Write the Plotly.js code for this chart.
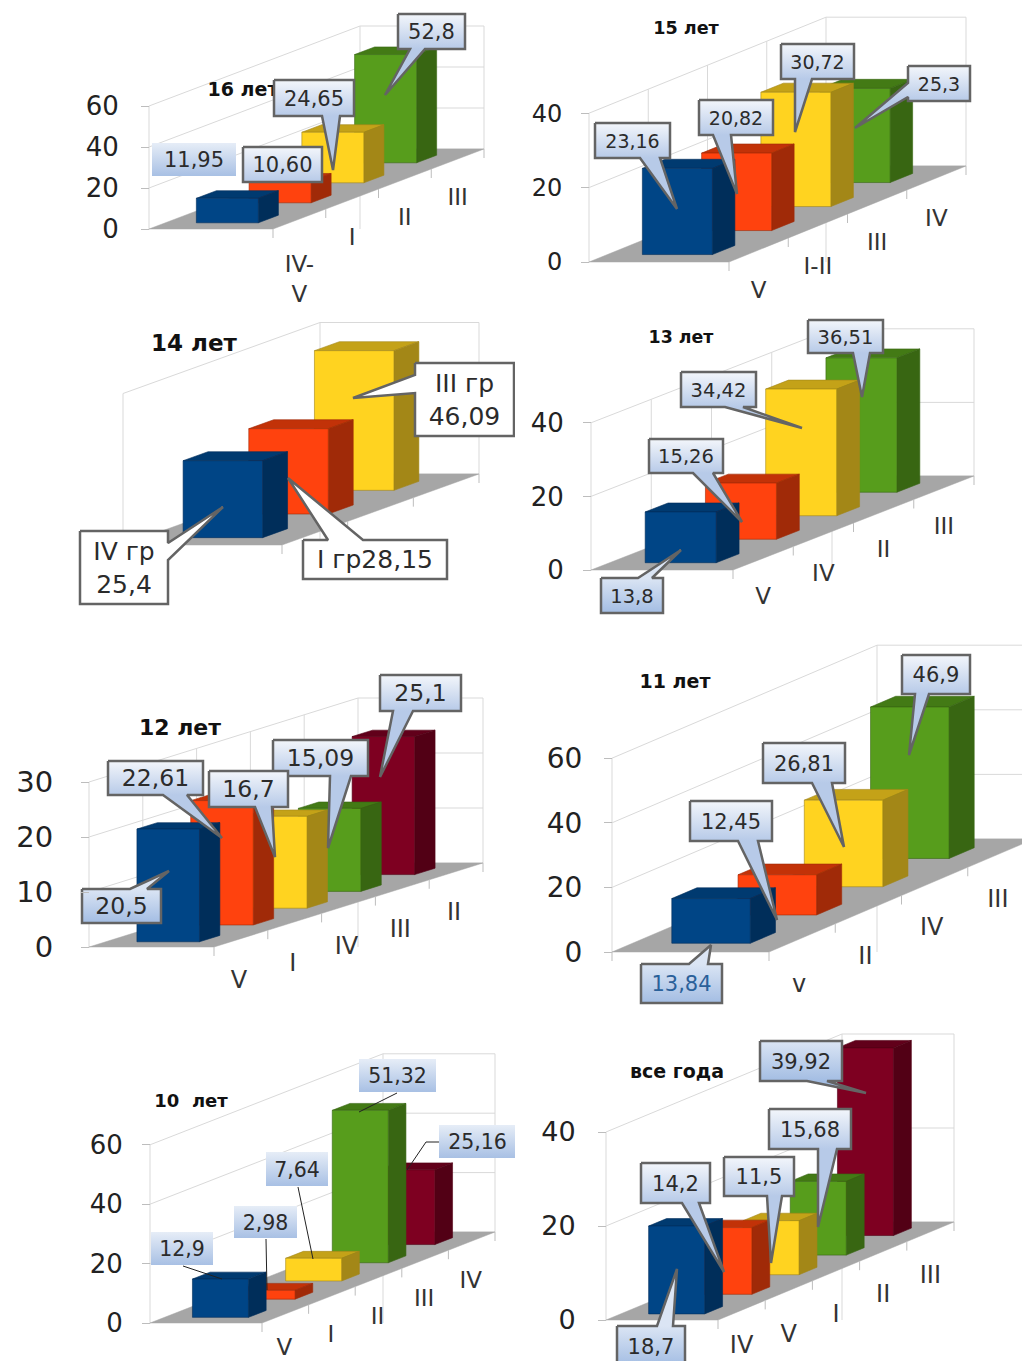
<!DOCTYPE html>
<html>
<head>
<meta charset="utf-8">
<script src="https://cdn.plot.ly/plotly-3.0.1.min.js"></script>
<style>html,body{margin:0;padding:0;background:#fff}#chart{width:1022px;height:1361px}</style>
</head>
<body>
<div id="chart"></div>
<script>
// Share of each health group by age: category order runs front to back along the floor.
const cats16 = ["IV-<br>V", "I", "II", "III"];
const vals16 = [11.95, 10.60, 24.65, 52.8];
const text16 = ["11,95", "10,60", "24,65", "52,8"];
const hues16 = ["blue", "red", "yellow", "green"];

const cats15 = ["V", "I-II", "III", "IV"];
const vals15 = [23.16, 20.82, 30.72, 25.3];
const text15 = ["23,16", "20,82", "30,72", "25,3"];
const hues15 = ["blue", "red", "yellow", "green"];

const cats14 = ["", "", ""];
const vals14 = [25.4, 28.15, 46.09];
const text14 = ["IV гр<br>25,4", "I гр28,15", "III гр<br>46,09"];
const hues14 = ["blue", "red", "yellow"];

const cats13 = ["V", "IV", "II", "III"];
const vals13 = [13.8, 15.26, 34.42, 36.51];
const text13 = ["13,8", "15,26", "34,42", "36,51"];
const hues13 = ["blue", "red", "yellow", "green"];

const cats12 = ["V", "I", "IV", "III", "II"];
const vals12 = [20.5, 22.61, 16.7, 15.09, 25.1];
const text12 = ["20,5", "22,61", "16,7", "15,09", "25,1"];
const hues12 = ["blue", "red", "yellow", "green", "maroon"];

const cats11 = ["v", "II", "IV", "III"];
const vals11 = [13.84, 12.45, 26.81, 46.9];
const text11 = ["13,84", "12,45", "26,81", "46,9"];
const hues11 = ["blue", "red", "yellow", "green"];

const cats10 = ["V", "I", "II", "III", "IV"];
const vals10 = [12.9, 2.98, 7.64, 51.32, 25.16];
const text10 = ["12,9", "2,98", "7,64", "51,32", "25,16"];
const hues10 = ["blue", "red", "yellow", "green", "maroon"];

const catsAll = ["IV", "V", "I", "II", "III"];
const valsAll = [18.7, 14.2, 11.5, 15.68, 39.92];
const textAll = ["18,7", "14,2", "11,5", "15,68", "39,92"];
const huesAll = ["blue", "red", "yellow", "green", "maroon"];

const FONT = "DejaVu Sans, Verdana, sans-serif";
const PAGE_W = 1022, PAGE_H = 1361;

const palette = {
  blue:   {front: "#004586", side: "#002e5a", top: "#003a70"},
  red:    {front: "#ff420e", side: "#a02a08", top: "#c23208"},
  yellow: {front: "#ffd320", side: "#a38717", top: "#c4a218"},
  green:  {front: "#579d1c", side: "#386612", top: "#437a15"},
  maroon: {front: "#7e0021", side: "#520015", top: "#61001a"}
};
const boxStyles = {
  light: {low: "#b7cae8", high: "#f3f6fb", line: "#646464", width: 2.5},
  deep:  {low: "#a3bde3", high: "#dbe5f4", line: "#646464", width: 2.5},
  bare:  {low: "#a8c0e4", high: "#e6edf7", line: "rgba(0,0,0,0)", width: 0},
  plain: {low: "#ffffff", high: "#ffffff", line: "#646464", width: 2.5}
};

// Frame geometry in page pixels: floor corner, wall scale, depth vector, and callout placement.
const panels = [
  {title: "16 лет", titleAt: [243, 91], titleSize: 19, cats: cats16, vals: vals16, text: text16, hues: hues16,
   band: [0, 312], col: 0, x0: 149, y0: 229, k: 2.05, W: 124, Dx: 211, Dy: 80, max: 60, step: 20,
   tickSize: 26, catSize: 23, catOff: [0, 40], catNudge: {0: 22}, labelSize: 21, standoff: 17, callouts: [
    {i: 3, style: "light", box: [398, 14, 465, 49], tail: {side: "bottom", from: 410, to: 425, tip: [385, 95]}},
    {i: 2, style: "light", box: [274, 80, 354, 116], tail: {side: "bottom", from: 322, to: 340, tip: [333, 170]}},
    {i: 1, style: "light", box: [243, 147, 322, 182]},
    {i: 0, style: "bare", box: [152, 143, 236, 176]}
   ]},
  {title: "15 лет", titleAt: [686, 30], titleSize: 17.6, cats: cats15, vals: vals15, text: text15, hues: hues15,
   band: [0, 312], col: 1, x0: 589, y0: 262, k: 3.72, W: 140, Dx: 237, Dy: 96, max: 40, step: 20, wallLines: true,
   tickSize: 24, catSize: 23, catOff: [0, 42], labelSize: 19, standoff: 14, callouts: [
    {i: 2, style: "light", box: [781, 44, 854, 79], tail: {side: "bottom", from: 795, to: 812, tip: [795, 132]}},
    {i: 3, style: "light", box: [908, 66, 970, 101], tail: {side: "left", from: 83, to: 97, tip: [855, 128]}},
    {i: 1, style: "light", box: [699, 100, 773, 135], tail: {side: "bottom", from: 713, to: 731, tip: [737, 194]}},
    {i: 0, style: "light", box: [595, 123, 670, 158], tail: {side: "bottom", from: 640, to: 660, tip: [677, 209]}}
   ]},
  {title: "14 лет", titleAt: [194, 345], titleSize: 23, cats: cats14, vals: vals14, text: text14, hues: hues14,
   band: [312, 632], col: 0, x0: 123, y0: 545, k: 3.03, W: 159, Dx: 197, Dy: 71, max: 50, step: 50, noAxis: true,
   tickSize: 24, catSize: 23, catOff: [0, 38], labelSize: 25, standoff: 18, callouts: [
    {i: 2, style: "plain", box: [415, 363, 514, 436], tail: {side: "left", from: 375, to: 393, tip: [353, 398]}},
    {i: 1, style: "plain", box: [303, 540, 447, 579], tail: {side: "top", from: 328, to: 363, tip: [288, 478]}},
    {i: 0, style: "plain", box: [80, 531, 168, 604], tail: {side: "right", from: 543, to: 560, tip: [223, 507]}}
   ]},
  {title: "13 лет", titleAt: [681, 339], titleSize: 17.4, cats: cats13, vals: vals13, text: text13, hues: hues13,
   band: [312, 632], col: 1, x0: 591, y0: 570, k: 3.68, W: 142, Dx: 241, Dy: 94, max: 40, step: 20, wallLines: true,
   tickSize: 26, catSize: 23, catOff: [0, 40], labelSize: 19.5, standoff: 14, callouts: [
    {i: 3, style: "light", box: [808, 320, 883, 353], tail: {side: "bottom", from: 853, to: 870, tip: [862, 397]}},
    {i: 2, style: "light", box: [681, 372, 756, 407], tail: {side: "bottom", from: 725, to: 743, tip: [802, 428]}},
    {i: 1, style: "light", box: [649, 439, 723, 473], tail: {side: "bottom", from: 693, to: 713, tip: [742, 522]}},
    {i: 0, style: "deep", box: [601, 578, 663, 613], tail: {side: "top", from: 638, to: 652, tip: [681, 550]}}
   ]},
  {title: "12 лет", titleAt: [180, 729], titleSize: 22, cats: cats12, vals: vals12, text: text12, hues: hues12,
   band: [640, 1015], col: 0, x0: 89, y0: 947, k: 5.5, W: 125, Dx: 269, Dy: 84, max: 30, step: 10, wallLines: true,
   tickSize: 29, catSize: 24, catOff: [-2, 43], labelSize: 23.5, standoff: 22, callouts: [
    {i: 4, style: "light", box: [380, 675, 461, 711], tail: {side: "bottom", from: 393, to: 413, tip: [380, 777]}},
    {i: 3, style: "light", box: [273, 740, 368, 776], tail: {side: "bottom", from: 330, to: 351, tip: [328, 848]}},
    {i: 2, style: "light", box: [209, 771, 288, 807], tail: {side: "bottom", from: 255, to: 272, tip: [275, 857]}},
    {i: 1, style: "light", box: [108, 761, 203, 795], tail: {side: "bottom", from: 163, to: 187, tip: [222, 838]}},
    {i: 0, style: "deep", box: [82, 889, 161, 923], tail: {side: "top", from: 130, to: 147, tip: [169, 871]}}
   ]},
  {title: "11 лет", titleAt: [675, 683], titleSize: 19, cats: cats11, vals: vals11, text: text11, hues: hues11,
   band: [640, 1015], col: 1, x0: 612, y0: 952, k: 3.23, W: 157, Dx: 265, Dy: 113, max: 60, step: 20, cornerTick: true,
   tickSize: 28, catSize: 24, catOff: [-3, 48], labelSize: 21, standoff: 16, callouts: [
    {i: 3, style: "light", box: [902, 655, 970, 694], tail: {side: "bottom", from: 915, to: 929, tip: [909, 755]}},
    {i: 2, style: "light", box: [763, 743, 845, 783], tail: {side: "bottom", from: 812, to: 832, tip: [844, 847]}},
    {i: 1, style: "light", box: [690, 801, 772, 841], tail: {side: "bottom", from: 738, to: 758, tip: [777, 920]}},
    {i: 0, style: "deep", ink: "#2a6099", box: [641, 964, 722, 1003], tail: {side: "top", from: 689, to: 708, tip: [711, 945]}}
   ]},
  {title: "10  лет", titleAt: [191, 1102], titleSize: 18, cats: cats10, vals: vals10, text: text10, hues: hues10,
   band: [1015, 1361], col: 0, x0: 150, y0: 1323, k: 2.97, W: 112, Dx: 233, Dy: 91, max: 60, step: 20,
   tickSize: 26, catSize: 23, catOff: [-1, 41], catNudge: {0: -6}, labelSize: 20.5, standoff: 14, callouts: [
    {i: 3, style: "bare", box: [359, 1059, 436, 1092], leader: [[397, 1093], [359, 1112]]},
    {i: 4, style: "bare", box: [439, 1125, 516, 1158], leader: [[439, 1142], [426, 1142], [407, 1170]]},
    {i: 2, style: "bare", box: [266, 1152, 328, 1186], leader: [[298, 1187], [313, 1259]]},
    {i: 1, style: "bare", box: [234, 1206, 297, 1238], leader: [[266, 1239], [267, 1290]]},
    {i: 0, style: "bare", box: [151, 1232, 213, 1265], leader: [[183, 1266], [222, 1279]]}
   ]},
  {title: "все года", titleAt: [677, 1073], titleSize: 19, cats: catsAll, vals: valsAll, text: textAll, hues: huesAll,
   band: [1015, 1361], col: 1, x0: 606, y0: 1320, k: 4.7, W: 112, Dx: 236, Dy: 98, max: 40, step: 20,
   tickSize: 27, catSize: 24, catOff: [0, 45], catNudge: {0: -8}, labelSize: 21, standoff: 17, callouts: [
    {i: 4, style: "deep", box: [760, 1041, 842, 1081], tail: {side: "bottom", from: 807, to: 827, tip: [866, 1093]}},
    {i: 3, style: "light", box: [769, 1109, 851, 1149], tail: {side: "bottom", from: 818, to: 837, tip: [818, 1227]}},
    {i: 2, style: "light", box: [724, 1157, 794, 1196], tail: {side: "bottom", from: 767, to: 782, tip: [771, 1263]}},
    {i: 1, style: "light", box: [641, 1163, 710, 1203], tail: {side: "bottom", from: 682, to: 699, tip: [724, 1272]}},
    {i: 0, style: "deep", box: [617, 1326, 685, 1366], tail: {side: "top", from: 657, to: 673, tip: [677, 1269]}}
   ]}
];

const columns = [[0, 515], [515, PAGE_W]];
const BAR_U = [0.25, 0.75];   // bar span across the floor width
const BAR_D = [0.31, 0.69];   // bar span inside its depth slot
const TEXT_DROP = 2.5;        // pixels that centre digits optically inside a callout

const traces = [];
const layout = {
  width: PAGE_W, height: PAGE_H, autosize: false,
  margin: {l: 0, r: 0, t: 0, b: 0, pad: 0},
  paper_bgcolor: "#ffffff", plot_bgcolor: "rgba(0,0,0,0)",
  showlegend: false, hovermode: false
};

panels.forEach((p, idx) => {
  const id = idx === 0 ? "" : String(idx + 1);
  const xa = "x" + id, ya = "y" + id;
  const n = p.vals.length;
  const [L, R] = columns[p.col];
  const [T, B] = p.band;

  // Page pixel rows convert to axis values; depth lifts a point by Dy pixels over the floor.
  const val = py => (p.y0 - py) / p.k;
  const lift = p.Dy / p.k;
  const floorX = (u, depth) => p.x0 + p.W * u + p.Dx * depth;
  const floorY = (v, depth) => v + lift * depth;

  layout["xaxis" + id] = {
    domain: [L / PAGE_W, R / PAGE_W], range: [L, R], visible: false, fixedrange: true, anchor: ya
  };
  const ticks = [];
  for (let v = 0; v <= p.max; v += p.step) ticks.push(v);
  layout["yaxis" + id] = {
    domain: [1 - B / PAGE_H, 1 - T / PAGE_H], range: [val(B), val(T)],
    anchor: "free", position: p.x0 / PAGE_W, side: "left", fixedrange: true,
    tickmode: "array", tickvals: p.noAxis ? [] : ticks, ticktext: p.noAxis ? [] : ticks.map(String),
    ticks: p.noAxis ? "" : "outside", ticklen: 8, tickwidth: 1, tickcolor: "#bdbdbd",
    ticklabelstandoff: p.standoff, showticklabels: !p.noAxis,
    tickfont: {family: FONT, size: p.tickSize, color: "#222222"},
    showgrid: false, zeroline: false, showline: false
  };

  const add = t => traces.push(Object.assign({xaxis: xa, yaxis: ya, showlegend: false, hoverinfo: "skip"}, t));
  const poly = (xs, ys, fill, edge, w) => add({
    type: "scatter", mode: "lines", x: xs.concat(xs[0]), y: ys.concat(ys[0]),
    fill: "toself", fillcolor: fill, line: {color: edge || fill, width: w === undefined ? 0.6 : w}
  });

  // Walls: horizontal rules on both walls at each axis tick, plus the frame edges.
  const wx = [], wy = [];
  const seg = (x1, y1, x2, y2) => { wx.push(x1, x2, null); wy.push(y1, y2, null); };
  const wallTicks = p.noAxis ? [p.max] : ticks.slice(1);
  wallTicks.forEach(v => {
    seg(floorX(0, 0), floorY(v, 0), floorX(0, 1), floorY(v, 1));
    seg(floorX(0, 1), floorY(v, 1), floorX(1, 1), floorY(v, 1));
  });
  seg(floorX(0, 0), 0, floorX(0, 0), p.max);
  seg(floorX(0, 1), 0, floorX(0, 1), floorY(p.max, 1));
  seg(floorX(1, 1), floorY(0, 1), floorX(1, 1), floorY(p.max, 1));
  seg(floorX(0, 1), floorY(0, 1), floorX(1, 1), floorY(0, 1));
  if (p.wallLines) {
    for (let i = 1; i < n; i++) seg(floorX(0, i / n), floorY(0, i / n), floorX(0, i / n), floorY(p.max, i / n));
  }
  add({type: "scatter", mode: "lines", x: wx, y: wy, line: {color: "#d9d9d9", width: 1}});

  // Floor and the depth ticks hanging from its front-right edge.
  poly([floorX(0, 0), floorX(1, 0), floorX(1, 1), floorX(0, 1)],
       [floorY(0, 0), floorY(0, 0), floorY(0, 1), floorY(0, 1)], "#a6a6a6", "#a6a6a6", 0.5);
  const tx = [], ty = [];
  const drop = 9 / p.k;
  for (let i = 0; i <= n; i++) {
    tx.push(floorX(1, i / n), floorX(1, i / n), null);
    ty.push(floorY(0, i / n), floorY(0, i / n) - drop, null);
  }
  if (p.cornerTick) { tx.push(p.x0, p.x0, null); ty.push(0, -drop, null); }
  add({type: "scatter", mode: "lines", x: tx, y: ty, line: {color: "#bdbdbd", width: 1}});

  // Bars, painted from the back of the floor to the front.
  for (let i = n - 1; i >= 0; i--) {
    const c = palette[p.hues[i]], v = p.vals[i];
    const d0 = (i + BAR_D[0]) / n, d1 = (i + BAR_D[1]) / n;
    const [u0, u1] = BAR_U;
    poly([floorX(u0, d0), floorX(u1, d0), floorX(u1, d1), floorX(u0, d1)],
         [floorY(v, d0), floorY(v, d0), floorY(v, d1), floorY(v, d1)], c.top, c.side);
    poly([floorX(u1, d0), floorX(u1, d1), floorX(u1, d1), floorX(u1, d0)],
         [floorY(0, d0), floorY(0, d1), floorY(v, d1), floorY(v, d0)], c.side, c.side);
    poly([floorX(u0, d0), floorX(u1, d0), floorX(u1, d0), floorX(u0, d0)],
         [floorY(0, d0), floorY(0, d0), floorY(v, d0), floorY(v, d0)], c.front, c.side);
  }

  // Category names sit under the middle of each depth slot.
  if (!p.noAxis) {
    const nudge = p.catNudge || {};
    add({
      type: "scatter", mode: "text",
      x: p.cats.map((_, i) => floorX(1, (i + 0.5) / n) + p.catOff[0]),
      y: p.cats.map((_, i) => floorY(0, (i + 0.5) / n) - (p.catOff[1] + (nudge[i] || 0)) / p.k),
      text: p.cats, textposition: "middle center",
      textfont: {family: FONT, size: p.catSize, color: "#333333"}
    });
  }

  add({
    type: "scatter", mode: "text", x: [p.titleAt[0]], y: [val(p.titleAt[1])], text: [p.title],
    textposition: "middle center", textfont: {family: "DejaVu Sans, sans-serif", size: p.titleSize, color: "#111111", weight: 700}
  });

  // Value callouts: a box with an optional wedge or a thin leader line to its bar.
  p.callouts.forEach(c => {
    const st = boxStyles[c.style];
    const [l, t, r, b] = c.box;
    if (c.leader) {
      add({type: "scatter", mode: "lines", x: c.leader.map(q => q[0]), y: c.leader.map(q => val(q[1])),
           line: {color: "#222222", width: 1}});
    }
    let pts;
    const tl = [l, t], tr = [r, t], br = [r, b], bl = [l, b];
    const w = c.tail;
    if (!w) pts = [tl, tr, br, bl];
    else if (w.side === "bottom") pts = [tl, tr, br, [w.to, b], w.tip, [w.from, b], bl];
    else if (w.side === "top") pts = [tl, [w.from, t], w.tip, [w.to, t], tr, br, bl];
    else if (w.side === "left") pts = [tl, tr, br, bl, [l, w.to], w.tip, [l, w.from]];
    else pts = [tl, tr, [r, w.from], w.tip, [r, w.to], br, bl];
    pts = pts.concat([tl]);
    add({
      type: "scatter", mode: "lines",
      x: pts.map(q => q[0]), y: pts.map(q => val(q[1])),
      fill: "toself",
      fillgradient: {type: "vertical", start: val(b), stop: val(t), colorscale: [[0, st.low], [1, st.high]]},
      line: {color: st.line, width: st.width, shape: "linear"}
    });
    add({
      type: "scatter", mode: "text", x: [(l + r) / 2], y: [val((t + b) / 2 + TEXT_DROP)], text: [p.text[c.i]],
      textposition: "middle center",
      textfont: {family: FONT, size: p.labelSize, color: c.ink || "#2b2b2b"}
    });
  });
});

Plotly.newPlot("chart", traces, layout, {displayModeBar: false, staticPlot: true});
</script>
</body>
</html>
